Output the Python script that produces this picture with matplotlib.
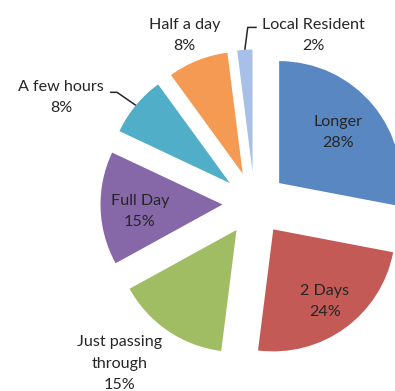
import numpy as np
import matplotlib
matplotlib.use('Agg')
import matplotlib.pyplot as plt

# length of stay
labels = ['Longer', '2 Days', 'Just passing\nthrough', 'Full Day',
          'A few hours', 'Half a day', 'Local Resident']
shares = [28, 24, 15, 15, 8, 8, 2]
colors = ['#5987C2', '#C35A55', '#A0BD63', '#8668A8',
          '#50AEC8', '#F59A52', '#A8BFE8']

# label placement: distance (in radii) and angle from each wedge's own centre
label_dist = [0.64, 0.725, 1.457, 0.68, 1.55, 1.23, 1.22]
label_ang = [40.6, -54.2, -131.3, -174.9, 153.2, 112.7, 65.7]
# leader lines: (elbow offset, text-edge offset) from label centre, px
leaders = {4: ((56, 5.5), (49, 5.5)), 6: ((-66, 8.5), (-57, 8.5))}

W, H = 395, 391
R = 122
centre = (254.5, H - 203.5)

plt.rcParams['font.family'] = ['Lato', 'DejaVu Sans']
fig = plt.figure(figsize=(W / 100, H / 100), dpi=100)
ax = fig.add_axes([0, 0, 1, 1])

wedges, _ = ax.pie(shares, colors=colors, startangle=90, counterclock=False,
                   radius=R, center=centre, explode=[32] * len(shares),
                   wedgeprops=dict(linewidth=0))

for i, w in enumerate(wedges):
    cx, cy = w.center
    a = np.deg2rad(label_ang[i])
    tx = cx + label_dist[i] * R * np.cos(a)
    ty = cy + label_dist[i] * R * np.sin(a)
    ax.text(tx, ty, f'{labels[i]}\n{shares[i]}%', ha='center', va='center',
            fontsize=11.6, color='#262626', linespacing=1.65)
    if i in leaders:
        mid = np.deg2rad((w.theta1 + w.theta2) / 2)
        sx, sy = cx + R * np.cos(mid), cy + R * np.sin(mid)
        (ex, ey), (fx, fy) = leaders[i]
        ax.plot([sx, tx + ex, tx + fx], [sy, ty + ey, ty + fy],
                color='#262626', lw=1.1, solid_capstyle='butt')

ax.set_xlim(0, W)
ax.set_ylim(0, H)
ax.set_aspect('auto')
ax.axis('off')

fig.savefig('out.png', dpi=100)
